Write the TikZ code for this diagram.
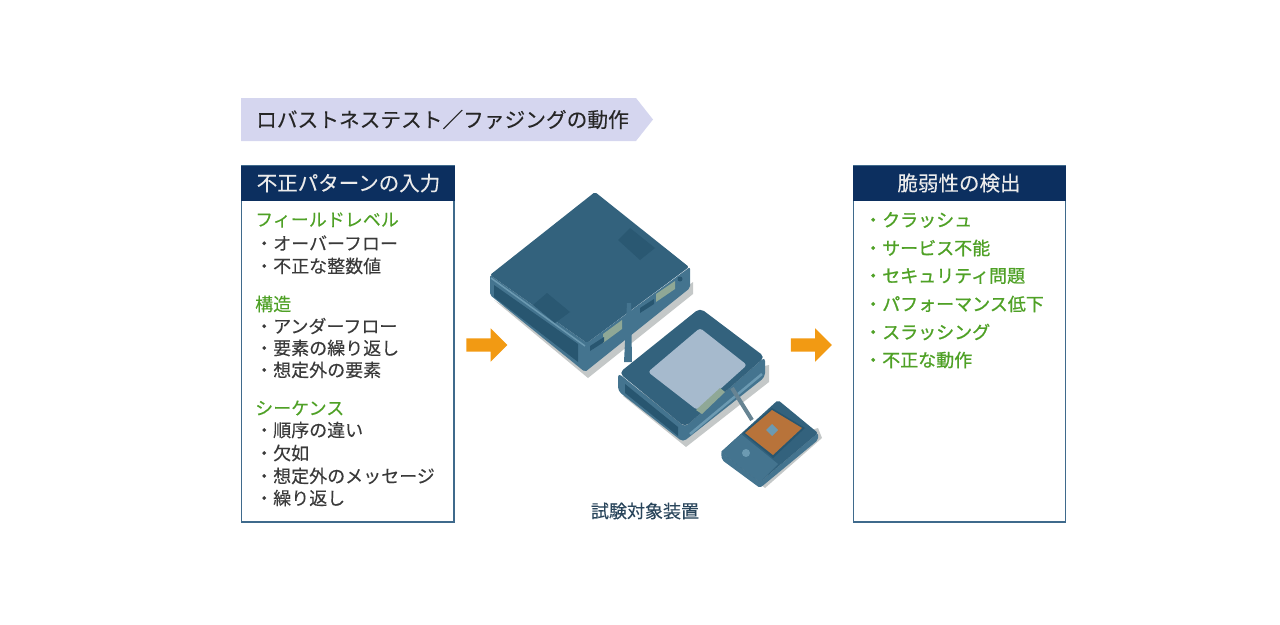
\documentclass[tikz,border=0pt]{standalone}
\usepackage{fontspec}
\setmainfont{Noto Sans CJK JP}
\newfontfamily\jpmed[FakeBold=0.9]{Noto Sans CJK JP}
\newfontfamily\jpsemi[FakeBold=0.15]{Noto Sans CJK JP}
\usetikzlibrary{shapes.arrows}
\definecolor{navy}{HTML}{0C2F5F}
\definecolor{edgeblue}{HTML}{3F6A8C}
\definecolor{lilac}{HTML}{D5D6EF}
\definecolor{leafgreen}{HTML}{4FA126}
\definecolor{inkgray}{HTML}{3A3A3A}
\definecolor{orangeup}{HTML}{F29A13}
\definecolor{caseTop}{HTML}{33627D}
\definecolor{caseDark}{HTML}{285670}
\definecolor{caseMid}{HTML}{44748F}
\definecolor{caseLight}{HTML}{6C9AB2}
\definecolor{shadowgray}{HTML}{C4C8C8}
\definecolor{panelblue}{HTML}{A6BACD}
\definecolor{panelgreen}{HTML}{8FA896}
\definecolor{screenorange}{HTML}{B8733A}
\begin{document}
\begin{tikzpicture}[x=1pt,y=-1pt,
   headtext/.style={text=white!92!black,font=\jpsemi\fontsize{20.5}{20}\selectfont},
   greenhead/.style={anchor=west,inner sep=0,text=leafgreen,font=\jpsemi\fontsize{18}{18}\selectfont},
   greenitem/.style={anchor=west,inner sep=0,text=leafgreen,font=\jpmed\fontsize{18}{18}\selectfont},
   plainitem/.style={anchor=west,inner sep=0,text=inkgray,font=\jpsemi\fontsize{18}{18}\selectfont},
   bigarrow/.style={single arrow,fill=orangeup,inner sep=6.5,minimum width=33,minimum height=41,single arrow head extend=10},
   panel/.style={draw=edgeblue,line width=1.5,fill=white}]
   \useasboundingbox (0,0) rectangle (1280,624);

   % title
   \fill[lilac] (241,98) -- (636,98) -- (653,119.5) -- (636,141) -- (241,141) -- cycle;
   \node[anchor=west,inner sep=0,text=black!85,font=\jpsemi\fontsize{20.7}{20}\selectfont] (title) at (256,119.5) {ロバストネステスト／ファジングの動作};

   % left box
   \draw[panel] (241.5,166) rectangle (454,522);
   \fill[navy] (241,166) rectangle (454.5,200.5);
   \node[headtext] (lefthead) at (348.5,183) {不正パターンの入力};
   \node[greenhead] (a1) at (255,220) {フィールドレベル};
   \node[plainitem] (a2) at (255,243) {・オーバーフロー};
   \node[plainitem] (a3) at (255,266) {・不正な整数値};
   \node[greenhead] (b1) at (255,304) {構造};
   \node[plainitem] (b2) at (255,326) {・アンダーフロー};
   \node[plainitem] (b3) at (255,348) {・要素の繰り返し};
   \node[plainitem] (b4) at (255,370) {・想定外の要素};
   \node[greenhead] (c1) at (255,408) {シーケンス};
   \node[plainitem] (c2) at (255,430) {・順序の違い};
   \node[plainitem] (c3) at (255,453) {・欠如};
   \node[plainitem] (c4) at (255,476) {・想定外のメッセージ};
   \node[plainitem] (c5) at (255,498) {・繰り返し};

   % right box
   \draw[panel] (853.5,166) rectangle (1065.5,522);
   \fill[navy] (853,166) rectangle (1066,200.5);
   \node[headtext] (righthead) at (959,183) {脆弱性の検出};
   \node[greenitem] (d1) at (864,220) {・クラッシュ};
   \node[greenitem] (d2) at (864,248) {・サービス不能};
   \node[greenitem] (d3) at (864,276) {・セキュリティ問題};
   \node[greenitem] (d4) at (864,304) {・パフォーマンス低下};
   \node[greenitem] (d5) at (864,332) {・スラッシング};
   \node[greenitem] (d6) at (864,360) {・不正な動作};

   % arrows
   \node[bigarrow] (arrowin) at (483.5,345) {};
   \node[bigarrow] (arrowout) at (808,345) {};

   % big box
   \fill[shadowgray] (494,300) -- (588,378) -- (693,294) -- (693,282) -- (588,360) -- cycle;
   \fill[caseMid,rounded corners=2] (490,275) -- (490,295) -- (585,372) -- (690,288) -- (690,267) -- (587,343) -- cycle;
   \fill[caseDark] (494,285) -- (578,344) -- (578,362) -- (494,297) -- cycle;
   \draw[caseLight,line width=1.5] (491,278) -- (585,346);
   \fill[caseTop,rounded corners=2] (595,192) -- (689,267) -- (587,343) -- (490,275) -- cycle;
   \fill[caseDark!85!caseTop] (630,228) -- (655,248) -- (640,260) -- (618,240) -- cycle;
   \fill[caseDark!85!caseTop] (547,293) -- (570,312) -- (555,323) -- (533,305) -- cycle;
   \fill[panelgreen] (603,334) -- (622,320) -- (622,329) -- (603,343) -- cycle;
   \fill[panelgreen] (656,294) -- (675,281) -- (675,289) -- (656,302) -- cycle;
   \fill[caseDark] (590,346) -- (604,337) -- (604,342) -- (590,351) -- cycle;
   \fill[caseDark] (640,308) -- (654,299) -- (654,304) -- (640,313) -- cycle;
   \fill[caseDark] (680,279) circle (2.5);

   % antenna
   \fill[caseMid] (627,303) -- (631,303) -- (632,362) -- (624,362) -- cycle;

   % router
   \fill[shadowgray] (623,396) -- (686,447) -- (769,382) -- (769,365) -- cycle;
   \fill[caseMid,rounded corners=4] (618,373) -- (618,391) -- (683,442) -- (765,377) -- (765,357) -- (685,427) -- cycle;
   \fill[caseDark] (625,384) -- (678,427) -- (678,436) -- (625,393) -- cycle;
   \fill[caseTop,rounded corners=5] (700,308) -- (765,357) -- (685,427) -- (619,373) -- cycle;
   \fill[panelblue,rounded corners=3] (700,328) -- (747,365) -- (697,410) -- (648,372) -- cycle;
   \fill[panelgreen] (696,410) -- (720,388) -- (725,392) -- (702,414) -- cycle;
   \draw[caseLight,line width=2.5] (690,434) -- (762,374);

   % cable
   \draw[caseDark!60!shadowgray,line width=4] (732,388) -- (752,420);

   % handheld
   \fill[shadowgray] (726,458) -- (765,488) -- (822,438) -- (818,428) -- cycle;
   \fill[caseMid,rounded corners=2] (721,452) -- (722,460) -- (760,488) -- (818,440) -- (818,433) -- (760,482) -- cycle;
   \fill[caseTop,rounded corners=2] (778,400) -- (818,433) -- (760,482) -- (721,452) -- cycle;
   \fill[caseMid] (721,452) -- (741,434) -- (778,464) -- (760,482) -- cycle;
   \fill[caseDark] (772,408) -- (805,428) -- (773,458) -- (743,433) -- cycle;
   \fill[screenorange] (772,410) -- (802,428) -- (773,455) -- (745,433) -- cycle;
   \fill[caseLight] (772,436) -- (778,430) -- (772,424) -- (766,430) -- cycle;
   \fill[caseLight] (746,453) circle (4);

   \node[anchor=center,inner sep=0,text=edgeblue!65!black,font=\jpsemi\fontsize{18}{18}\selectfont] (dut) at (645,511) {試験対象装置};
\end{tikzpicture}
\end{document}
